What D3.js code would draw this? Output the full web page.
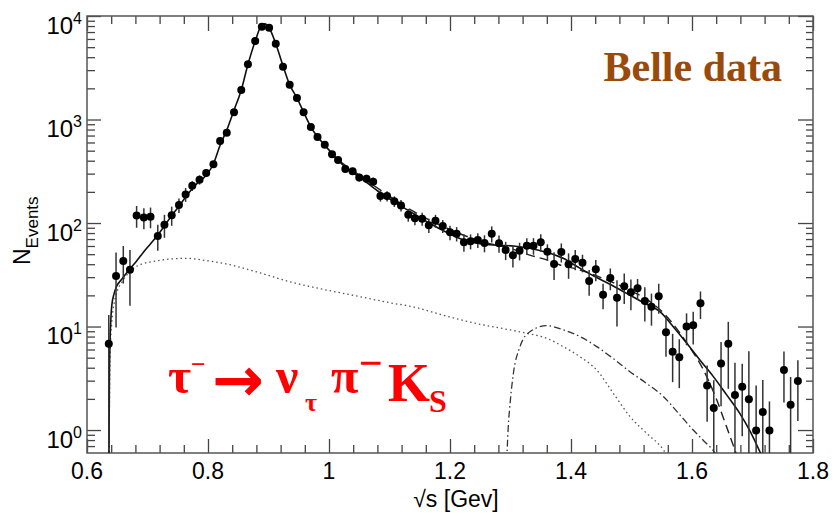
<!DOCTYPE html>
<html>
<head>
<meta charset="utf-8">
<script src="https://cdn.jsdelivr.net/npm/d3@7"></script>
<style>
  body { margin: 0; background: #fff; }
  svg { display: block; }
</style>
</head>
<body>
<svg id="chart" width="834" height="519"></svg>
<script>
// Belle data points: bin centre (GeV), events, error
const massBins = [0.636, 0.648, 0.660, 0.671, 0.682, 0.694, 0.705, 0.717, 0.728, 0.740,
  0.752, 0.763, 0.774, 0.786, 0.797, 0.809, 0.820, 0.831, 0.843, 0.855,
  0.866, 0.878, 0.889, 0.901, 0.912, 0.924, 0.935, 0.947, 0.958, 0.970,
  0.981, 0.993, 1.005, 1.015, 1.027, 1.039, 1.050, 1.062, 1.073, 1.085,
  1.096, 1.108, 1.119, 1.131, 1.142, 1.154, 1.165, 1.176, 1.188, 1.200,
  1.211, 1.223, 1.234, 1.246, 1.257, 1.269, 1.281, 1.292, 1.304, 1.315,
  1.327, 1.338, 1.350, 1.361, 1.372, 1.384, 1.396, 1.407, 1.419, 1.430,
  1.441, 1.453, 1.465, 1.476, 1.488, 1.499, 1.510, 1.522, 1.533, 1.545,
  1.557, 1.568, 1.579, 1.591, 1.602, 1.614, 1.625, 1.636, 1.648, 1.660,
  1.671, 1.683, 1.694, 1.706, 1.717, 1.728, 1.752, 1.763, 1.775];
const eventCounts = [6.8, 30.8, 43, 35.4, 118, 113, 115, 75, 96, 119,
  149, 189, 229, 262, 304, 369, 620, 746, 1175, 1928,
  3413, 5730, 7880, 7710, 5400, 3238, 2168, 1614, 1175, 847,
  678, 571, 461, 406, 333, 316, 276, 268, 251, 182,
  182, 162, 148, 120, 111, 110, 95, 105, 93.5, 81.3,
  78.8, 65.2, 66.6, 68.5, 64.1, 78.8, 63.7, 54.8, 48.7, 54,
  60.4, 60.4, 65.2, 52.8, 40.2, 52.5, 39.9, 44.9, 41.4, 27.5,
  35.7, 20.3, 29.4, 19, 24.5, 21.4, 23.4, 17.6, 15.5, 19.6,
  8.8, 5.7, 5.04, 10, 10.3, 16.8, 2.7, 1.63, 4.4, 6.8,
  2.18, 2.62, 1.98, 0.99, 1.49, 0.99, 3.8, 1.76, 2.97];
const eventErrors = [6.1, 21, 17, 19.5, 28, 26, 26, 21, 24, 25,
  24, 29, 25, 27, 26, 26, 35, 38, 45, 55,
  70, 90, 100, 100, 85, 65, 55, 45, 40, 35,
  30, 30, 28, 27, 25, 25, 24, 24, 24, 21,
  21, 19, 19, 17, 16, 16, 15, 15, 13.5, 13,
  12.5, 12.5, 11, 11, 12, 14, 12, 11, 11.5, 10.5,
  11, 11, 12.5, 9.5, 12, 11, 11, 10, 8, 7.7,
  8.3, 5.6, 7, 9, 8, 7, 5.4, 6.4, 5.3, 6.3,
  3.7, 2.8, 2.5, 3.4, 3.6, 5, 1.5, 1.4, 2.7, 4.3,
  2.3, 1.75, 3.8, 1.7, 1.55, 0.9, 1.95, 1.5, 1.75];

// full fit (solid)
const fitX = [0.6362, 0.637, 0.638, 0.6395, 0.641, 0.645, 0.649, 0.655, 0.660, 0.671,
  0.682, 0.693, 0.704, 0.715, 0.728, 0.740, 0.752, 0.765, 0.780, 0.797,
  0.809, 0.820, 0.831, 0.843, 0.855, 0.866, 0.878, 0.889, 0.894, 0.901,
  0.912, 0.924, 0.935, 0.947, 0.958, 0.970, 0.981, 0.993, 1.005, 1.027,
  1.050, 1.080, 1.112, 1.140, 1.167, 1.195, 1.222, 1.250, 1.277, 1.305,
  1.332, 1.360, 1.387, 1.410, 1.437, 1.465, 1.492, 1.520, 1.547, 1.570,
  1.594, 1.615, 1.635, 1.657, 1.679, 1.697, 1.712, 1.720];
const fitY = [0.5, 3, 7, 12, 16, 21, 24.5, 27.5, 30, 36,
  43, 52, 62, 74, 94, 118, 145, 185, 235, 290,
  372, 565, 790, 1230, 1930, 3400, 5700, 8200, 8400, 7700,
  5400, 3300, 2170, 1620, 1180, 850, 680, 565, 470, 345,
  280, 205, 155, 123, 99, 81, 69, 63, 61, 60,
  57, 52, 45.6, 38, 30.9, 25.5, 20.9, 17, 13.9, 9.8,
  6.6, 4.6, 3.3, 2.2, 1.45, 0.95, 0.62, 0.48];

// alternative fit (dashed)
const altFitX = [1.000, 1.030, 1.050, 1.084, 1.139, 1.195, 1.250, 1.305, 1.332, 1.360,
  1.382, 1.415, 1.460, 1.500, 1.530, 1.553, 1.575, 1.594, 1.619, 1.641,
  1.657, 1.671, 1.680];
const altFitY = [480, 350, 290, 210, 130, 89, 67, 55.7, 49, 44,
  39.3, 35.2, 28, 22, 17.5, 13.5, 9.5, 6.6, 3.8, 1.95,
  1.08, 0.64, 0.45];

// dotted component
const dottedX = [0.6365, 0.638, 0.641, 0.645, 0.650, 0.658, 0.666, 0.677, 0.690, 0.715,
  0.740, 0.765, 0.795, 0.825, 0.880, 0.935, 0.990, 1.050, 1.100, 1.139,
  1.190, 1.250, 1.290, 1.327, 1.360, 1.387, 1.415, 1.4425, 1.470, 1.4975,
  1.525, 1.553, 1.560];
const dottedY = [0.5, 5, 11, 17, 22, 27, 31.5, 36.5, 40, 43,
  45, 45.6, 43.5, 40.8, 33.8, 27.1, 22.9, 19.5, 17, 15.5,
  12.8, 10.5, 9.5, 8.6, 7.7, 6.4, 5.1, 3.8, 2.26, 1.35,
  0.93, 0.64, 0.55];

// dash-dot component
const dashDotX = [1.2937, 1.296, 1.300, 1.3047, 1.3157, 1.332, 1.360, 1.387, 1.415, 1.4425,
  1.470, 1.4975, 1.525, 1.553, 1.580, 1.602, 1.620, 1.638, 1.642];
const dashDotY = [0.5, 1.0, 2.0, 3.5, 6.4, 8.9, 10.2, 9.3, 8.0, 6.4,
  4.9, 3.66, 2.82, 2.1, 1.4, 1.0, 0.78, 0.6, 0.55];

const xTicks = [0.6, 0.8, 1, 1.2, 1.4, 1.6, 1.8];
const xTickLabels = ["0.6", "0.8", "1", "1.2", "1.4", "1.6", "1.8"];
const yDecades = [0, 1, 2, 3, 4];

const plot = { left: 87, right: 813, top: 16, bottom: 453 };
const labelFont = "'Liberation Sans', Arial, Helvetica, sans-serif";
const serifFont = "'Liberation Serif', 'Times New Roman', serif";

const svg = d3.select("#chart");
svg.append("rect").attr("width", 834).attr("height", 519).attr("fill", "#fff");

const x = d3.scaleLinear().domain([0.6, 1.8]).range([plot.left, plot.right]);
const y = d3.scaleLog().domain([Math.pow(10, -0.2218), 1e4]).range([plot.bottom, plot.top]);

svg.append("clipPath").attr("id", "plotClip")
  .append("rect")
  .attr("x", plot.left).attr("y", plot.top)
  .attr("width", plot.right - plot.left).attr("height", plot.bottom - plot.top);

// ticks
const xMinor = d3.range(0, 31).filter(i => i % 5 != 0).map(i => 0.6 + i * 0.04);
const yMajor = yDecades.map(d => Math.pow(10, d));
const yMinor = [];
for (let d = -1; d <= 3; d++) {
  for (let m = 2; m <= 9; m++) {
    const v = m * Math.pow(10, d);
    if (v >= y.domain()[0] && v <= 1e4) yMinor.push(v);
  }
}

function tickAxis(axis, values, size, transform) {
  const g = svg.append("g")
    .attr("transform", transform)
    .call(axis.tickValues(values).tickSize(size).tickSizeOuter(0).tickFormat(""));
  g.select(".domain").remove();
  g.selectAll(".tick line").attr("stroke", "#444").attr("stroke-width", 1.3);
  return g;
}

tickAxis(d3.axisBottom(x), xTicks, -14, `translate(0,${plot.bottom})`);
tickAxis(d3.axisBottom(x), xMinor, -8, `translate(0,${plot.bottom})`);
tickAxis(d3.axisTop(x), xTicks, -15, `translate(0,${plot.top})`);
tickAxis(d3.axisTop(x), xMinor, -8, `translate(0,${plot.top})`);
tickAxis(d3.axisLeft(y), yMajor, -14, `translate(${plot.left},0)`);
tickAxis(d3.axisLeft(y), yMinor, -8, `translate(${plot.left},0)`);
tickAxis(d3.axisRight(y), yMajor, -15, `translate(${plot.right},0)`);
tickAxis(d3.axisRight(y), yMinor, -7, `translate(${plot.right},0)`);

// frame
svg.append("rect")
  .attr("x", plot.left).attr("y", plot.top)
  .attr("width", plot.right - plot.left).attr("height", plot.bottom - plot.top)
  .attr("fill", "none").attr("stroke", "#555").attr("stroke-width", 1.5);

// tick labels
svg.append("g").selectAll("text")
  .data(xTicks)
  .join("text")
  .attr("x", d => x(d))
  .attr("y", 479)
  .attr("text-anchor", "middle")
  .attr("font-family", labelFont)
  .attr("font-size", 23)
  .text((d, i) => xTickLabels[i]);

const yLabels = svg.append("g").selectAll("text")
  .data(yDecades)
  .join("text")
  .attr("x", 82)
  .attr("y", d => y(Math.pow(10, d)) + 17.5)
  .attr("text-anchor", "end")
  .attr("font-family", labelFont)
  .attr("font-size", 24);
yLabels.append("tspan").text("10");
yLabels.append("tspan").attr("dy", -10).attr("font-size", 16).text(d => d);

// axis titles
svg.append("text")
  .attr("x", 456).attr("y", 507)
  .attr("text-anchor", "middle")
  .attr("font-family", labelFont)
  .attr("font-size", 23)
  .text("√s [Gev]");

const yTitle = svg.append("text")
  .attr("transform", "translate(30,265) rotate(-90)")
  .attr("font-family", labelFont)
  .attr("font-size", 23);
yTitle.append("tspan").text("N");
yTitle.append("tspan").attr("dy", 8).attr("font-size", 17).text("Events");

// curves
const inPlot = svg.append("g").attr("clip-path", "url(#plotClip)");
const line = d3.line().x(d => x(d[0])).y(d => y(d[1])).curve(d3.curveMonotoneX);

function drawCurve(xs, ys, stroke, width, dash) {
  inPlot.append("path")
    .datum(xs.map((v, i) => [v, ys[i]]))
    .attr("d", line)
    .attr("fill", "none")
    .attr("stroke", stroke)
    .attr("stroke-width", width)
    .attr("stroke-dasharray", dash);
}

drawCurve(dottedX, dottedY, "#555", 1.3, "1.5,3");
drawCurve(dashDotX, dashDotY, "#333", 1.3, "7,3,1.5,3");
drawCurve(altFitX, altFitY, "#222", 1.4, "9,5");
drawCurve(fitX, fitY, "#111", 1.6, null);

// error bars and points
const points = massBins.map((m, i) => ({ m: m, n: eventCounts[i], e: eventErrors[i] }));

inPlot.append("g").selectAll("line")
  .data(points)
  .join("line")
  .attr("x1", d => x(d.m)).attr("x2", d => x(d.m))
  .attr("y1", d => d.n - d.e > y.domain()[0] ? y(d.n - d.e) : plot.bottom + 2)
  .attr("y2", d => y(d.n + d.e))
  .attr("stroke", "#333")
  .attr("stroke-width", 1.5);

inPlot.append("g").selectAll("circle")
  .data(points)
  .join("circle")
  .attr("cx", d => x(d.m))
  .attr("cy", d => y(d.n))
  .attr("r", 4)
  .attr("fill", "#000");

// annotations
svg.append("text")
  .attr("x", 782).attr("y", 81)
  .attr("text-anchor", "end")
  .attr("font-family", serifFont)
  .attr("font-weight", "bold")
  .attr("font-size", 42)
  .attr("fill", "#9a4a0a")
  .text("Belle data");

const decay = svg.append("text")
  .attr("font-family", serifFont)
  .attr("font-weight", "bold")
  .attr("fill", "#ff0000");
decay.append("tspan").attr("x", 168).attr("y", 393).attr("font-size", 50).text("τ");
decay.append("tspan").attr("x", 191).attr("y", 373).attr("font-size", 26).text("−");
decay.append("tspan").attr("x", 212).attr("y", 401).attr("font-size", 62)
  .attr("font-family", "'DejaVu Sans', sans-serif").text("→");
decay.append("tspan").attr("x", 276).attr("y", 393).attr("font-size", 50).text("ν");
decay.append("tspan").attr("x", 305).attr("y", 411).attr("font-size", 26).text("τ");
decay.append("tspan").attr("x", 331).attr("y", 393).attr("font-size", 50).text("π");
decay.append("tspan").attr("x", 359).attr("y", 377).attr("font-size", 42).text("−");
decay.append("tspan").attr("x", 388).attr("y", 401).attr("font-size", 54).text("K");
decay.append("tspan").attr("x", 429).attr("y", 412).attr("font-size", 32).text("S");
</script>
</body>
</html>
